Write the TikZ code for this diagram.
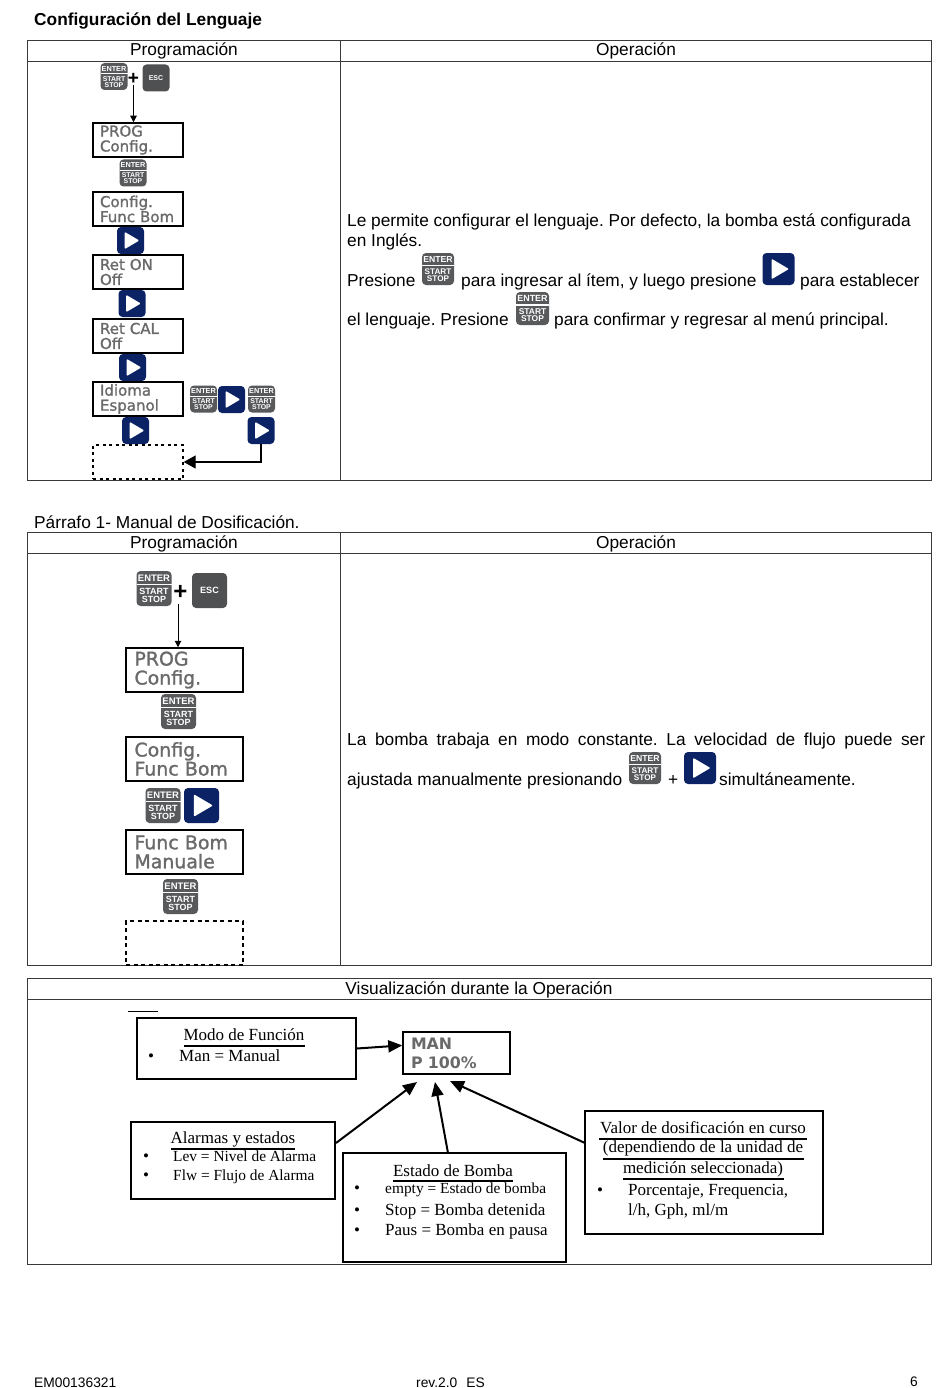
\documentclass[tikz,border=0pt]{standalone}
\usepackage{fontspec}
\setmainfont{Liberation Sans}
\newfontfamily\serifFont{Liberation Serif}
\newfontfamily\lcdFont[FakeBold=1.4]{DejaVu Sans}
\newfontfamily\lcdHeavy{DejaVu Sans Bold}
\usetikzlibrary{
  calc
  , arrows.meta
}
\definecolor{keygray}{HTML}{58595B}
\definecolor{keyblue}{HTML}{0B2265}
\definecolor{lcdgray}{HTML}{6A6A6A}
\definecolor{rulegray}{HTML}{3A3A3A}
\frenchspacing

\begin{document}
\begin{tikzpicture}[x=1pt,y=-1pt]
      \tikzstyle{body text}=[anchor=base west,inner sep=0,font=\fontsize{17.3}{20}\selectfont];
      \tikzstyle{head text}=[inner sep=0,font=\fontsize{17.3}{20}\selectfont];
      \tikzstyle{foot text}=[anchor=base west,inner sep=0,font=\fontsize{13.8}{16}\selectfont];
      \tikzstyle{note text}=[anchor=base west,inner sep=0,font=\serifFont\fontsize{17}{20}\selectfont];
      \tikzstyle{note small}=[note text,font=\serifFont\fontsize{15.4}{20}\selectfont];
      \tikzstyle{note title}=[inner sep=0,font=\serifFont\fontsize{17}{20}\selectfont];
      \tikzstyle{table rule}=[draw=rulegray,line width=0.9pt];
      \tikzstyle{key template}=[fill=keygray,rounded corners=4pt,minimum size=27pt,inner sep=0];
      \tikzstyle{blue template}=[fill=keyblue,rounded corners=4pt,minimum size=27pt,inner sep=0];
      \tikzstyle{key label}=[text=white,inner sep=0,font=\bfseries\fontsize{6.9}{7}\selectfont];
      \tikzstyle{lcd template}=[draw=black,line width=1.5pt,inner xsep=7pt,inner ysep=0,align=left,text=lcdgray];
      \tikzstyle{lcd small}=[lcd template,minimum width=90pt,minimum height=34pt,text width=76pt
          ,font=\lcdFont\fontsize{15}{15}\selectfont];
      \tikzstyle{lcd large}=[lcd template,minimum width=117pt,minimum height=44pt,text width=100pt,inner xsep=8.5pt
          ,font=\lcdFont\fontsize{18.9}{19}\selectfont];
      \tikzstyle{note box}=[draw=black,line width=1.8pt,inner sep=0];
      \tikzstyle{note rule}=[draw=black,line width=1.6pt];
      \tikzstyle{small arrow}=[line width=1pt,-{Triangle[length=6.5pt,width=6.5pt]}];
      \tikzstyle{big arrow}=[line width=2pt,-{Triangle[length=14pt,width=12pt]}];

      % enter / start / stop key
      \newcommand\enterKey[3]{
        \begin{scope}[shift={(#2)},scale=#3/27,transform shape]
          \node [key template] (#1) at (0,0) {};
          \fill [white] (-13.5,-3.4) rectangle (13.5,-2.4);
          \node [key label,font=\bfseries\fontsize{7.3}{7}\selectfont] (#1_a) at (0,-8) {ENTER};
          \node [key label] (#1_b) at (0,2.4) {START};
          \node [key label] (#1_c) at (0,8.4) {STOP};
        \end{scope}
      };
      % esc key
      \newcommand\escKey[3]{
        \begin{scope}[shift={(#2)},scale=#3/27,transform shape]
          \node [key template,fill=keygray!90!black] (#1) at (0,0) {};
          \node [key label,font=\bfseries\fontsize{7}{7}\selectfont] (#1_a) at (0,0) {ESC};
        \end{scope}
      };
      % arrow key
      \newcommand\playKey[3]{
        \begin{scope}[shift={(#2)},scale=#3/27,transform shape]
          \node [blue template] (#1) at (0,0) {};
          \fill [white,rounded corners=1pt] (-5.8,-8.6) -- (8.8,0) -- (-5.8,8.6) -- cycle;
        \end{scope}
      };

      \useasboundingbox (0,0) rectangle (950,1388);

      % ------ first table
      \node [anchor=base west,inner sep=0,font=\bfseries\fontsize{17.3}{20}\selectfont] (title_lang) at (34,26) {Configuración del Lenguaje};
      \draw [table rule] (27,40) rectangle (931,480) (27,61) -- (931,61) (340,40) -- (340,480);
      \node [head text] (prog_head) at (184,51.2) {Programación};
      \node [head text] (oper_head) at (636,51.2) {Operación};

      \enterKey{k_a}{114,76.5}{27};
      \node [inner sep=0,font=\bfseries\fontsize{19}{20}\selectfont] (plus_a) at (133.5,79) {+};
      \escKey{esc_a}{156,78}{27};
      \node [lcd small] (prog_a) at (138,140) {PROG\\Config.};
      \draw [small arrow] (plus_a.south) -- (plus_a.south |- prog_a.north);
      \enterKey{k_b}{133,173}{27};
      \node [lcd small] (cfg_a) at (138,209) {Config.\\Func Bom};
      \playKey{p_a}{130.5,240.5}{27};
      \node [lcd small] (ret_on) at (138,272) {Ret ON\\Off};
      \playKey{p_b}{132,303.5}{27};
      \node [lcd small] (ret_cal) at (138,336) {Ret CAL\\Off};
      \playKey{p_c}{132.5,367.5}{27};
      \node [lcd small] (idioma) at (138,399) {Idioma\\Espanol};
      \enterKey{k_c}{203.5,399}{27};
      \playKey{p_d}{231.5,399.5}{27};
      \enterKey{k_d}{261.5,399}{27};
      \playKey{p_e}{135.5,430.5}{27};
      \playKey{p_f}{261,430.5}{27};
      \node [draw=black,line width=1.3pt,dash pattern=on 3pt off 3.5pt,minimum width=90pt,minimum height=34pt,inner sep=0] (empty_a) at (138,462) {};
      \draw [line width=1.3pt,-{Triangle[length=12pt,width=13pt]}] (p_f.south) |- (empty_a.east);

      \node [body text] (l_a) at (347,226.6) {Le permite configurar el lenguaje. Por defecto, la bomba está configurada};
      \node [body text] (l_b) at (347,247) {en Inglés.};
      \node [body text] (l_c) at (347,286.6) {Presione};
      \enterKey{k_e}{438,269}{32};
      \node [body text] (l_d) at (461,286.6) {para ingresar al ítem, y luego presione};
      \playKey{p_g}{778.5,269}{32};
      \node [body text] (l_e) at (800,286.6) {para establecer};
      \node [body text] (l_f) at (347,325.6) {el lenguaje. Presione};
      \enterKey{k_f}{532.5,308.5}{33};
      \node [body text] (l_g) at (554,325.6) {para confirmar y regresar al menú principal.};

      % ------ second table
      \node [foot text,font=\fontsize{17.3}{20}\selectfont] (title_dos) at (34,528) {Párrafo 1- Manual de Dosificación.};
      \draw [table rule] (27,532) rectangle (931,965) (27,553) -- (931,553) (340,532) -- (340,965);
      \node [head text] (prog_headb) at (184,543.5) {Programación};
      \node [head text] (oper_headb) at (636,543.5) {Operación};

      \enterKey{k_g}{154,588.5}{35};
      \node [inner sep=0,font=\bfseries\fontsize{24}{24}\selectfont] (plus_b) at (180.5,592) {+};
      \escKey{esc_b}{209.5,590.5}{35};
      \coordinate (arrow_b) at (178,604);
      \node [lcd large] (prog_b) at (184.5,670) {PROG\\Config.};
      \draw [small arrow] (arrow_b) -- (arrow_b |- prog_b.north);
      \enterKey{k_h}{178.5,711.5}{35};
      \node [lcd large] (cfg_b) at (184.5,759) {Config.\\Func Bom};
      \enterKey{k_i}{163,805.5}{35};
      \playKey{p_h}{201.5,805.5}{35};
      \node [lcd large] (func_b) at (184.5,852) {Func Bom\\Manuale};
      \enterKey{k_j}{180.5,896.5}{35};
      \node [draw=black,line width=1.5pt,dash pattern=on 4pt off 3.5pt,minimum width=117pt,minimum height=44pt,inner sep=0] (empty_b) at (184.5,943) {};

      \node [body text] (m_a) at (347,745.5) {\makebox[578pt][s]{La bomba trabaja en modo constante. La velocidad de flujo puede ser}};
      \node [body text] (m_b) at (347,785.5) {ajustada manualmente presionando};
      \enterKey{k_k}{645,768}{32};
      \node [body text] (m_c) at (668,785.5) {+};
      \playKey{p_i}{700,768}{32};
      \node [body text] (m_d) at (719,785.5) {simultáneamente.};

      % ------ third table
      \draw [table rule] (27,978) rectangle (931,1264) (27,999) -- (931,999);
      \node [head text] (vis_head) at (479,990) {Visualización durante la Operación};
      \draw [line width=1pt] (128,1011) -- (158,1011);

      \node [note box,minimum width=219pt,minimum height=61pt] (modo) at (246.5,1048.5) {};
      \node [note title] (modo_t) at (244,1035) {Modo de Función};
      \draw [note rule] (184,1046) -- (305,1046);
      \node [note text] (modo_b) at (148,1061) {\textbullet};
      \node [note text] (modo_c) at (179,1061) {Man = Manual};

      \node [draw=black,line width=1.5pt,minimum width=107pt,minimum height=42pt,inner xsep=8pt,inner ysep=0,text width=91pt,align=left,text=lcdgray
          ,font=\lcdHeavy\fontsize{15.8}{19}\selectfont] (man) at (456.5,1053) {MAN\\P 100\%};

      \node [note box,minimum width=204pt,minimum height=77pt] (alarm) at (233,1160.5) {};
      \node [note title] (alarm_t) at (233,1139) {Alarmas y estados};
      \draw [note rule] (171,1149) -- (295,1149);
      \node [note text] (alarm_a) at (143,1161) {\textbullet};
      \node [note small] (alarm_b) at (173,1161) {Lev = Nivel de Alarma};
      \node [note text] (alarm_c) at (143,1180) {\textbullet};
      \node [note small] (alarm_d) at (173,1180) {Flw = Flujo de Alarma};

      \node [note box,minimum width=223pt,minimum height=109pt] (estado) at (454.5,1207.5) {};
      \node [note title] (estado_t) at (453,1171) {Estado de Bomba};
      \draw [note rule] (393,1181) -- (513,1181);
      \node [note text] (estado_a) at (354,1193) {\textbullet};
      \node [note small] (estado_b) at (385,1193) {empty = Estado de bomba};
      \node [note text] (estado_c) at (354,1215) {\textbullet};
      \node [note text] (estado_d) at (385,1215) {Stop = Bomba detenida};
      \node [note text] (estado_e) at (354,1235) {\textbullet};
      \node [note text] (estado_f) at (385,1235) {Paus = Bomba en pausa};

      \node [note box,minimum width=238pt,minimum height=123pt] (valor) at (704,1172.5) {};
      \node [note title] (valor_a) at (703,1128) {Valor de dosificación en curso};
      \draw [note rule] (599,1139) -- (807,1139);
      \node [note title] (valor_b) at (703,1148) {(dependiendo de la unidad de};
      \draw [note rule] (603,1159) -- (804,1159);
      \node [note title] (valor_c) at (703,1169) {medición seleccionada)};
      \draw [note rule] (623,1179) -- (784,1179);
      \node [note text] (valor_d) at (597,1195) {\textbullet};
      \node [note text] (valor_e) at (628,1195) {Porcentaje, Frequencia,};
      \node [note text] (valor_f) at (628,1215) {l/h, Gph, ml/m};

      \coordinate (man_a) at (417,1082);
      \coordinate (man_b) at (435,1082);
      \coordinate (man_c) at (450,1081);
      \coordinate (from_alarm) at (336,1143);
      \coordinate (from_estado) at (448,1153);
      \coordinate (from_valor) at (585,1143);
      \draw [big arrow] (modo.east) -- (man.172);
      \draw [big arrow] (from_alarm) -- (man_a);
      \draw [big arrow] (from_estado) -- (man_b);
      \draw [big arrow] (from_valor) -- (man_c);

      % ------ footer
      \node [foot text] (foot_a) at (34,1387) {EM00136321};
      \node [foot text] (foot_b) at (416,1387) {rev.2.0\hspace{9pt}ES};
      \node [foot text] (foot_c) at (910,1386) {6};

    \end{tikzpicture}
\end{document}
